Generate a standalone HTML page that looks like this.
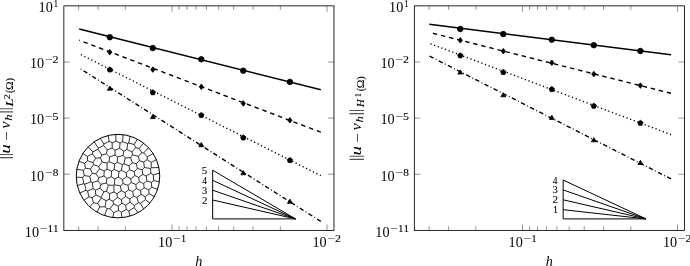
<!DOCTYPE html>
<html><head><meta charset="utf-8"><title>Convergence plots</title>
<style>
html,body{margin:0;padding:0;background:#fff}
svg{display:block}
text{fill:#000;font-kerning:none}
.tk{fill:none;stroke:#7a7a7a;stroke-width:0.8}
.ln{fill:none;stroke:#000;stroke-width:1.4}
.mk{fill:#000;stroke:#000;stroke-width:0.85;stroke-linejoin:miter}
.th{fill:none;stroke:#000;stroke-width:1}
.ms{fill:none;stroke:#000;stroke-width:0.8}
.fr{fill:none;stroke:#000;stroke-width:0.85}
</style></head>
<body>
<svg width="690" height="266" viewBox="0 0 690 266">
<rect width="690" height="266" fill="#fff"/>
<g transform="translate(0,0)">
<path d="M78.68 5.85v4M78.68 230.4v-4M98.05 5.85v4M98.05 230.4v-4M125.34 5.85v4M125.34 230.4v-4M179.09 5.85v4M179.09 230.4v-4M187.02 5.85v4M187.02 230.4v-4M196.01 5.85v4M196.01 230.4v-4M206.39 5.85v4M206.39 230.4v-4M218.66 5.85v4M218.66 230.4v-4M233.68 5.85v4M233.68 230.4v-4M253.05 5.85v4M253.05 230.4v-4M280.34 5.85v4M280.34 230.4v-4M172.00 5.85v6M172.00 230.4v-6M327.00 5.85v6M327.00 230.4v-6M63.85 61.99h6M333.95 61.99h-6M63.85 118.12h6M333.95 118.12h-6M63.85 174.26h6M333.95 174.26h-6" class="tk"/>
<path d="M320.8 89.8L79.2 29.0" class="ln"/>
<path d="M320.8 132.2L79.2 40.2" class="ln" stroke-dasharray="4.46 3.86" stroke-dashoffset="0.15"/>
<path d="M320.8 175.7L79.2 53.7" class="ln" stroke-dasharray="1.21 2.67" stroke-dashoffset="0.15"/>
<path d="M320.8 221.4L79.2 68.0" class="ln" stroke-dasharray="4.46 2.47 0.85 2.47" stroke-dashoffset="0.15"/>
<circle cx="109.80" cy="37.20" r="2.77" class="mk"/>
<circle cx="152.80" cy="48.10" r="2.77" class="mk"/>
<circle cx="201.30" cy="59.30" r="2.77" class="mk"/>
<circle cx="243.30" cy="70.70" r="2.77" class="mk"/>
<circle cx="289.90" cy="81.90" r="2.77" class="mk"/>
<polygon points="109.80,49.43 111.88,52.20 109.80,54.97 107.72,52.20" class="mk"/>
<polygon points="152.80,66.83 154.88,69.60 152.80,72.37 150.72,69.60" class="mk"/>
<polygon points="201.30,84.03 203.38,86.80 201.30,89.57 199.22,86.80" class="mk"/>
<polygon points="243.30,100.63 245.38,103.40 243.30,106.17 241.22,103.40" class="mk"/>
<polygon points="289.90,117.53 291.98,120.30 289.90,123.07 287.82,120.30" class="mk"/>
<polygon points="109.80,66.93 107.17,68.84 108.17,71.94 111.43,71.94 112.43,68.84" class="mk"/>
<polygon points="152.80,89.73 150.17,91.64 151.17,94.74 154.43,94.74 155.43,91.64" class="mk"/>
<polygon points="201.30,112.43 198.67,114.34 199.67,117.44 202.93,117.44 203.93,114.34" class="mk"/>
<polygon points="243.30,134.93 240.67,136.84 241.67,139.94 244.93,139.94 245.93,136.84" class="mk"/>
<polygon points="289.90,157.53 287.27,159.44 288.27,162.54 291.53,162.54 292.53,159.44" class="mk"/>
<polygon points="109.80,86.03 107.40,90.19 112.20,90.19" class="mk"/>
<polygon points="152.80,114.43 150.40,118.59 155.20,118.59" class="mk"/>
<polygon points="201.30,142.53 198.90,146.69 203.70,146.69" class="mk"/>
<polygon points="243.30,170.63 240.90,174.78 245.70,174.78" class="mk"/>
<polygon points="289.90,199.13 287.50,203.28 292.30,203.28" class="mk"/>
<path d="M212.65 170.2V218.9H295.5M295.5 218.9L212.65 170.2M295.5 218.9L212.65 180.3M295.5 218.9L212.65 190.2M295.5 218.9L212.65 200.0" class="th"/>
<text transform="translate(201.77,173.70) scale(1.040,1)" style='font-family:"Liberation Serif",serif;stroke:#000;stroke-width:0.1px;font-size:10.5px'>5</text>
<text transform="translate(202.22,183.80) scale(0.901,1)" style='font-family:"Liberation Serif",serif;stroke:#000;stroke-width:0.1px;font-size:10.5px'>4</text>
<text transform="translate(201.89,193.70) scale(1.014,1)" style='font-family:"Liberation Serif",serif;stroke:#000;stroke-width:0.1px;font-size:10.5px'>3</text>
<text transform="translate(201.92,203.50) scale(1.045,1)" style='font-family:"Liberation Serif",serif;stroke:#000;stroke-width:0.1px;font-size:10.5px'>2</text>
<path d="M135.62 147.65L131.97 151.99M131.97 151.99L126.89 149.47M126.89 149.47L127.77 143.59M127.77 143.59L128.59 143.12M128.59 143.12L134.22 144.48M134.22 144.48L135.62 147.65M136.99 197.43L141.03 194.39M141.03 194.39L145.13 196.66M145.13 196.66L145.40 199.76M145.40 199.76L140.44 203.34M140.44 203.34L138.42 202.78M138.42 202.78L136.99 197.43M100.24 138.16L103.88 144.13M103.88 144.13L103.53 145.51M103.53 145.51L98.37 148.19M98.37 148.19L94.00 141.73M139.33 181.72L138.71 177.35M138.71 177.35L134.88 175.55M134.88 175.55L130.84 178.76M130.84 178.76L131.28 182.53M131.28 182.53L135.86 184.53M135.86 184.53L139.33 181.72M99.91 188.24L103.93 191.82M103.93 191.82L101.02 197.40M101.02 197.40L95.79 195.00M95.79 195.00L95.46 190.08M95.46 190.08L99.91 188.24M91.02 181.89L89.79 176.36M89.79 176.36L92.35 173.45M92.35 173.45L95.84 173.78M95.84 173.78L98.66 177.66M98.66 177.66L97.82 180.91M97.82 180.91L92.29 182.65M92.29 182.65L91.02 181.89M126.29 172.68L121.38 170.39M121.38 170.39L118.99 171.62M118.99 171.62L118.42 177.20M118.42 177.20L122.61 179.51M122.61 179.51L126.60 176.54M126.60 176.54L126.29 172.68M99.79 206.90L96.94 212.40M89.59 207.02L93.51 202.81M93.51 202.81L97.78 203.45M97.78 203.45L99.79 206.90M130.07 216.27L128.75 210.87M128.75 210.87L126.32 209.43M126.32 209.43L121.32 212.20M121.32 212.20L121.93 217.89M76.61 169.28L83.35 170.37M83.35 170.37L84.23 175.59M84.23 175.59L82.60 177.38M82.60 177.38L76.09 177.22M115.94 141.06L115.78 134.24M108.15 135.36L109.18 141.28M109.18 141.28L112.20 142.94M112.20 142.94L115.94 141.06M130.84 178.76L126.60 176.54M126.29 172.68L129.68 169.84M129.68 169.84L134.19 171.57M134.19 171.57L134.88 175.55M113.92 185.24L113.99 192.07M113.99 192.07L116.90 193.68M116.90 193.68L121.22 190.82M121.22 190.82L120.50 185.89M120.50 185.89L114.47 184.78M114.47 184.78L113.92 185.24M133.45 196.17L129.86 198.87M129.86 198.87L129.94 202.19M129.94 202.19L134.46 205.45M134.46 205.45L138.42 202.78M136.99 197.43L133.45 196.17M140.44 203.34L143.70 209.17M150.00 203.19L145.40 199.76M88.09 146.72L92.86 151.92M92.86 151.92L98.03 149.19M98.03 149.19L98.37 148.19M117.53 157.09L115.00 155.01M115.00 155.01L115.14 150.23M115.14 150.23L119.59 148.27M119.59 148.27L123.75 151.11M123.75 151.11L123.10 155.46M123.10 155.46L117.53 157.09M123.75 151.11L126.89 149.47M131.97 151.99L132.56 154.87M132.56 154.87L130.57 157.65M130.57 157.65L125.34 157.91M125.34 157.91L123.10 155.46M83.35 170.37L85.42 168.16M85.42 168.16L90.51 169.02M90.51 169.02L92.35 173.45M89.79 176.36L84.23 175.59M119.59 148.27L120.06 142.96M120.06 142.96L115.94 141.06M112.20 142.94L112.19 148.11M112.19 148.11L115.14 150.23M104.19 170.92L99.48 168.85M99.48 168.85L98.72 166.58M98.72 166.58L102.25 162.02M102.25 162.02L107.05 163.09M107.05 163.09L107.11 169.21M107.11 169.21L104.19 170.92M79.63 193.06L86.07 190.27M86.07 190.27L84.68 184.16M84.68 184.16L83.86 183.68M83.86 183.68L77.15 185.56M105.09 206.80L107.05 208.80M107.05 208.80L104.44 215.79M99.79 206.90L105.09 206.80M139.33 181.72L143.69 183.46M143.69 183.46L144.16 187.77M144.16 187.77L140.61 190.62M140.61 190.62L136.32 188.62M136.32 188.62L135.86 184.53M158.96 167.52L151.22 167.78M151.22 167.78L151.22 162.32M151.22 162.32L156.52 159.62M122.43 164.53L121.38 170.39M129.68 169.84L129.10 165.79M129.10 165.79L123.89 163.80M123.89 163.80L122.43 164.53M134.46 205.45L134.21 207.69M134.21 207.69L128.75 210.87M126.32 209.43L125.69 205.26M125.69 205.26L129.94 202.19M109.65 193.55L109.33 199.32M109.33 199.32L112.87 201.20M112.87 201.20L117.49 197.42M117.49 197.42L116.90 193.68M113.99 192.07L109.65 193.55M109.94 208.72L107.05 208.80M112.85 217.76L113.69 212.68M113.69 212.68L109.94 208.72M128.05 185.34L131.28 182.53M136.32 188.62L132.67 191.44M132.67 191.44L128.63 189.84M128.63 189.84L128.05 185.34M151.22 162.32L147.10 159.67M147.10 159.67L147.30 156.95M147.30 156.95L153.26 153.49M118.56 210.40L113.69 212.68M109.94 208.72L113.61 203.96M113.61 203.96L118.20 206.07M118.20 206.07L118.56 210.40M118.20 206.07L121.89 203.26M121.89 203.26L121.47 199.61M121.47 199.61L117.49 197.42M112.87 201.20L113.61 203.96M147.10 159.67L143.72 162.05M143.72 162.05L144.38 167.52M144.38 167.52L150.55 168.53M150.55 168.53L151.22 167.78M114.81 178.90L118.42 177.20M122.61 179.51L122.96 183.56M122.96 183.56L120.50 185.89M114.47 184.78L114.81 178.90M109.33 199.32L106.12 200.61M106.12 200.61L105.09 206.80M118.99 171.62L114.28 169.48M114.28 169.48L111.53 171.00M111.53 171.00L111.22 176.75M111.22 176.75L114.81 178.90M98.03 149.19L101.88 155.06M101.88 155.06L106.32 153.80M106.32 153.80L107.37 149.89M107.37 149.89L103.53 145.51M86.07 190.27L87.57 191.03M87.57 191.03L88.98 196.77M88.98 196.77L83.76 200.37M108.34 185.20L113.92 185.24M111.22 176.75L106.95 178.44M106.95 178.44L106.31 182.98M106.31 182.98L108.34 185.20M143.69 183.46L146.87 180.95M146.87 180.95L151.36 182.37M151.36 182.37L151.79 187.30M151.79 187.30L148.76 189.76M148.76 189.76L144.16 187.77M122.43 164.53L117.28 162.38M117.28 162.38L117.53 157.09M125.34 157.91L123.89 163.80M104.19 170.92L103.93 176.00M103.93 176.00L98.66 177.66M95.84 173.78L99.48 168.85M139.17 148.43L143.67 142.98M137.52 139.03L134.22 144.48M135.62 147.65L139.17 148.43M134.21 207.69L138.19 212.79M115.00 155.01L109.64 156.99M109.64 156.99L106.32 153.80M107.37 149.89L112.19 148.11M142.10 169.72L142.89 174.40M142.89 174.40L138.71 177.35M134.19 171.57L137.47 168.54M137.47 168.54L142.10 169.72M133.45 196.17L132.67 191.44M140.61 190.62L141.03 194.39M99.91 188.24L100.78 184.33M100.78 184.33L97.82 180.91M92.29 182.65L93.07 188.67M93.07 188.67L95.46 190.08M93.07 188.67L87.57 191.03M88.98 196.77L92.00 197.77M92.00 197.77L95.79 195.00M159.75 173.15L153.30 174.93M153.30 174.93L150.89 173.27M150.89 173.27L150.55 168.53M97.78 203.45L101.24 198.04M101.24 198.04L106.12 200.61M159.53 181.79L153.68 180.56M153.68 180.56L151.36 182.37M151.79 187.30L157.79 189.35M153.68 180.56L153.30 174.93M127.77 143.59L122.42 141.73M122.42 141.73L120.06 142.96M137.47 168.54L136.21 163.63M136.21 163.63L139.38 160.72M139.38 160.72L143.72 162.05M144.38 167.52L142.10 169.72M103.88 144.13L109.18 141.28M84.68 184.16L91.02 181.89M82.60 177.38L83.86 183.68M123.23 134.51L122.42 141.73M92.86 151.92L92.44 153.78M92.44 153.78L95.60 158.18M95.60 158.18L100.35 157.88M100.35 157.88L101.88 155.06M139.38 160.72L138.46 156.36M138.46 156.36L132.56 154.87M130.57 157.65L132.31 162.80M132.31 162.80L136.21 163.63M128.59 143.12L130.26 136.05M108.34 185.20L106.51 191.36M106.51 191.36L103.93 191.82M100.78 184.33L106.31 182.98M128.05 185.34L122.96 183.56M129.10 165.79L132.31 162.80M111.53 171.00L107.11 169.21M107.05 163.09L109.08 161.67M109.08 161.67L114.70 164.01M114.70 164.01L114.28 169.48M129.86 198.87L125.48 196.52M125.48 196.52L121.47 199.61M121.89 203.26L125.69 205.26M139.17 148.43L141.63 152.77M141.63 152.77L138.46 156.36M142.89 174.40L146.15 175.96M146.15 175.96L150.89 173.27M101.02 197.40L101.24 198.04M93.51 202.81L92.00 197.77M90.51 169.02L93.66 164.66M93.66 164.66L98.72 166.58M78.75 161.29L84.62 163.27M84.62 163.27L85.42 168.16M93.66 164.66L93.01 162.74M93.01 162.74L95.60 158.18M100.35 157.88L102.25 162.02M146.87 180.95L146.15 175.96M141.63 152.77L143.67 152.94M143.67 152.94L147.30 156.95M125.05 192.54L125.48 196.52M121.22 190.82L125.05 192.54M118.56 210.40L121.32 212.20M106.51 191.36L109.65 193.55M84.62 163.27L87.59 160.75M87.59 160.75L93.01 162.74M148.76 189.76L149.03 193.67M149.03 193.67L145.13 196.66M148.62 147.54L143.67 152.94M82.69 153.40L87.33 156.43M87.33 156.43L92.44 153.78M149.03 193.67L154.55 196.67M114.70 164.01L117.28 162.38M109.64 156.99L109.08 161.67M128.63 189.84L125.05 192.54M87.59 160.75L87.33 156.43M106.95 178.44L103.93 176.00" class="ms"/><circle cx="118.0" cy="176.1" r="41.75" class="th"/>
<rect x="63.85" y="5.85" width="270.10" height="224.55" class="fr"/>
<text transform="translate(53.75,7.25) scale(0.879,1)" style='font-family:"Liberation Serif",serif;stroke:#000;stroke-width:0.1px;font-size:9.7px'>1</text><text transform="translate(38.55,12.15) scale(0.999,1)" style='font-family:"Liberation Serif",serif;font-size:14.2px'>10</text>
<text transform="translate(52.57,63.39) scale(1.234,1)" style='font-family:"Liberation Serif",serif;stroke:#000;stroke-width:0.1px;font-size:9.7px'>2</text><text transform="translate(44.93,63.39) scale(1.396,1)" style='font-family:"Liberation Serif",serif;stroke:#000;stroke-width:0.1px;font-size:9.7px'>−</text><text transform="translate(29.95,68.29) scale(0.999,1)" style='font-family:"Liberation Serif",serif;font-size:14.2px'>10</text>
<text transform="translate(52.41,119.52) scale(1.228,1)" style='font-family:"Liberation Serif",serif;stroke:#000;stroke-width:0.1px;font-size:9.7px'>5</text><text transform="translate(44.93,119.52) scale(1.396,1)" style='font-family:"Liberation Serif",serif;stroke:#000;stroke-width:0.1px;font-size:9.7px'>−</text><text transform="translate(29.95,124.42) scale(0.999,1)" style='font-family:"Liberation Serif",serif;font-size:14.2px'>10</text>
<text transform="translate(52.67,175.66) scale(1.168,1)" style='font-family:"Liberation Serif",serif;stroke:#000;stroke-width:0.1px;font-size:9.7px'>8</text><text transform="translate(44.93,175.66) scale(1.396,1)" style='font-family:"Liberation Serif",serif;stroke:#000;stroke-width:0.1px;font-size:9.7px'>−</text><text transform="translate(29.95,180.56) scale(0.999,1)" style='font-family:"Liberation Serif",serif;font-size:14.2px'>10</text>
<text transform="translate(47.53,231.80) scale(1.137,1)" style='font-family:"Liberation Serif",serif;stroke:#000;stroke-width:0.1px;font-size:9.7px'>11</text><text transform="translate(39.78,231.80) scale(1.396,1)" style='font-family:"Liberation Serif",serif;stroke:#000;stroke-width:0.1px;font-size:9.7px'>−</text><text transform="translate(24.80,236.70) scale(0.999,1)" style='font-family:"Liberation Serif",serif;font-size:14.2px'>10</text>
<text transform="translate(180.90,241.90) scale(1.054,1)" style='font-family:"Liberation Serif",serif;stroke:#000;stroke-width:0.1px;font-size:9.7px'>1</text><text transform="translate(173.08,241.90) scale(1.396,1)" style='font-family:"Liberation Serif",serif;stroke:#000;stroke-width:0.1px;font-size:9.7px'>−</text><text transform="translate(158.10,246.80) scale(0.999,1)" style='font-family:"Liberation Serif",serif;font-size:14.2px'>10</text>
<text transform="translate(335.07,241.90) scale(1.234,1)" style='font-family:"Liberation Serif",serif;stroke:#000;stroke-width:0.1px;font-size:9.7px'>2</text><text transform="translate(327.43,241.90) scale(1.396,1)" style='font-family:"Liberation Serif",serif;stroke:#000;stroke-width:0.1px;font-size:9.7px'>−</text><text transform="translate(312.45,246.80) scale(0.999,1)" style='font-family:"Liberation Serif",serif;font-size:14.2px'>10</text>
<text transform="translate(195.19,265.90) scale(1.000,1)" style='font-family:"Liberation Serif",serif;font-style:italic;font-size:14.2px'>h</text>
<g transform="translate(10.1,158) rotate(-90)"><text transform="translate(-1.44,1.10) scale(1.039,1)" style='font-family:"DejaVu Math TeX Gyre","DejaVu Serif",serif;fill:#555;font-size:16.1px'>‖</text><text transform="translate(4.15,0.00) scale(1.344,1)" style='font-family:"Liberation Serif",serif;font-style:italic;font-size:14.2px'>u</text><text transform="translate(16.83,0.90) scale(1.226,1)" style='font-family:"Liberation Serif",serif;font-size:14.2px'>−</text><text transform="translate(29.59,0.00) scale(1.097,1)" style='font-family:"Liberation Serif",serif;font-style:italic;font-size:14.2px'>v</text><text transform="translate(37.14,2.30) scale(1.286,1)" style='font-family:"Liberation Serif",serif;font-style:italic;stroke:#000;stroke-width:0.1px;font-size:9.94px'>h</text><text transform="translate(44.26,1.10) scale(1.039,1)" style='font-family:"DejaVu Math TeX Gyre","DejaVu Serif",serif;fill:#555;font-size:16.1px'>‖</text><text transform="translate(51.47,2.90) scale(1.430,1)" style='font-family:"Liberation Serif",serif;font-style:italic;stroke:#000;stroke-width:0.1px;font-size:9.94px'>L</text><text transform="translate(58.76,0.20) scale(1.386,1)" style='font-family:"Liberation Serif",serif;stroke:#000;stroke-width:0.1px;font-size:7.2px'>2</text><text transform="translate(65.06,2.90) scale(0.929,1)" style='font-family:"Liberation Serif",serif;stroke:#000;stroke-width:0.1px;font-size:10.9px'>(</text><text transform="translate(68.10,3.10) scale(1.164,1)" style='font-family:"Liberation Serif",serif;stroke:#000;stroke-width:0.1px;font-size:9.94px'>Ω</text><text transform="translate(76.47,2.90) scale(0.929,1)" style='font-family:"Liberation Serif",serif;stroke:#000;stroke-width:0.1px;font-size:10.9px'>)</text></g>
</g>
<g transform="translate(350.5,0)">
<path d="M78.68 5.85v4M78.68 230.4v-4M98.05 5.85v4M98.05 230.4v-4M125.34 5.85v4M125.34 230.4v-4M179.09 5.85v4M179.09 230.4v-4M187.02 5.85v4M187.02 230.4v-4M196.01 5.85v4M196.01 230.4v-4M206.39 5.85v4M206.39 230.4v-4M218.66 5.85v4M218.66 230.4v-4M233.68 5.85v4M233.68 230.4v-4M253.05 5.85v4M253.05 230.4v-4M280.34 5.85v4M280.34 230.4v-4M172.00 5.85v6M172.00 230.4v-6M327.00 5.85v6M327.00 230.4v-6M63.85 61.99h6M333.95 61.99h-6M63.85 118.12h6M333.95 118.12h-6M63.85 174.26h6M333.95 174.26h-6" class="tk"/>
<path d="M320.5 54.8L78.8 24.3" class="ln"/>
<path d="M320.5 93.3L78.8 32.4" class="ln" stroke-dasharray="4.46 3.86" stroke-dashoffset="0.15"/>
<path d="M320.5 134.6L78.8 43.3" class="ln" stroke-dasharray="1.21 2.67" stroke-dashoffset="0.15"/>
<path d="M320.5 178.9L78.8 56.0" class="ln" stroke-dasharray="4.46 2.47 0.85 2.47" stroke-dashoffset="0.15"/>
<circle cx="109.80" cy="29.00" r="2.77" class="mk"/>
<circle cx="152.80" cy="34.10" r="2.77" class="mk"/>
<circle cx="201.30" cy="39.70" r="2.77" class="mk"/>
<circle cx="243.30" cy="45.20" r="2.77" class="mk"/>
<circle cx="289.90" cy="51.00" r="2.77" class="mk"/>
<polygon points="109.80,37.53 111.88,40.30 109.80,43.07 107.72,40.30" class="mk"/>
<polygon points="152.80,48.43 154.88,51.20 152.80,53.97 150.72,51.20" class="mk"/>
<polygon points="201.30,59.93 203.38,62.70 201.30,65.47 199.22,62.70" class="mk"/>
<polygon points="243.30,71.33 245.38,74.10 243.30,76.87 241.22,74.10" class="mk"/>
<polygon points="289.90,82.83 291.98,85.60 289.90,88.37 287.82,85.60" class="mk"/>
<polygon points="109.80,52.83 107.17,54.74 108.17,57.84 111.43,57.84 112.43,54.74" class="mk"/>
<polygon points="152.80,69.43 150.17,71.34 151.17,74.44 154.43,74.44 155.43,71.34" class="mk"/>
<polygon points="201.30,86.53 198.67,88.44 199.67,91.54 202.93,91.54 203.93,88.44" class="mk"/>
<polygon points="243.30,103.23 240.67,105.14 241.67,108.24 244.93,108.24 245.93,105.14" class="mk"/>
<polygon points="289.90,120.33 287.27,122.24 288.27,125.34 291.53,125.34 292.53,122.24" class="mk"/>
<polygon points="109.80,69.93 107.40,74.09 112.20,74.09" class="mk"/>
<polygon points="152.80,92.63 150.40,96.79 155.20,96.79" class="mk"/>
<polygon points="201.30,115.23 198.90,119.39 203.70,119.39" class="mk"/>
<polygon points="243.30,137.63 240.90,141.78 245.70,141.78" class="mk"/>
<polygon points="289.90,160.33 287.50,164.48 292.30,164.48" class="mk"/>
<path d="M212.65 180.0V218.9H295.5M295.5 218.9L212.65 180.0M295.5 218.9L212.65 189.9M295.5 218.9L212.65 199.8M295.5 218.9L212.65 209.7" class="th"/>
<text transform="translate(202.22,183.50) scale(0.901,1)" style='font-family:"Liberation Serif",serif;stroke:#000;stroke-width:0.1px;font-size:10.5px'>4</text>
<text transform="translate(201.89,193.40) scale(1.014,1)" style='font-family:"Liberation Serif",serif;stroke:#000;stroke-width:0.1px;font-size:10.5px'>3</text>
<text transform="translate(201.92,203.30) scale(1.045,1)" style='font-family:"Liberation Serif",serif;stroke:#000;stroke-width:0.1px;font-size:10.5px'>2</text>
<text transform="translate(202.43,213.20) scale(0.947,1)" style='font-family:"Liberation Serif",serif;stroke:#000;stroke-width:0.1px;font-size:10.5px'>1</text>
<rect x="63.85" y="5.85" width="270.10" height="224.55" class="fr"/>
<text transform="translate(53.75,7.25) scale(0.879,1)" style='font-family:"Liberation Serif",serif;stroke:#000;stroke-width:0.1px;font-size:9.7px'>1</text><text transform="translate(38.55,12.15) scale(0.999,1)" style='font-family:"Liberation Serif",serif;font-size:14.2px'>10</text>
<text transform="translate(52.57,63.39) scale(1.234,1)" style='font-family:"Liberation Serif",serif;stroke:#000;stroke-width:0.1px;font-size:9.7px'>2</text><text transform="translate(44.93,63.39) scale(1.396,1)" style='font-family:"Liberation Serif",serif;stroke:#000;stroke-width:0.1px;font-size:9.7px'>−</text><text transform="translate(29.95,68.29) scale(0.999,1)" style='font-family:"Liberation Serif",serif;font-size:14.2px'>10</text>
<text transform="translate(52.41,119.52) scale(1.228,1)" style='font-family:"Liberation Serif",serif;stroke:#000;stroke-width:0.1px;font-size:9.7px'>5</text><text transform="translate(44.93,119.52) scale(1.396,1)" style='font-family:"Liberation Serif",serif;stroke:#000;stroke-width:0.1px;font-size:9.7px'>−</text><text transform="translate(29.95,124.42) scale(0.999,1)" style='font-family:"Liberation Serif",serif;font-size:14.2px'>10</text>
<text transform="translate(52.67,175.66) scale(1.168,1)" style='font-family:"Liberation Serif",serif;stroke:#000;stroke-width:0.1px;font-size:9.7px'>8</text><text transform="translate(44.93,175.66) scale(1.396,1)" style='font-family:"Liberation Serif",serif;stroke:#000;stroke-width:0.1px;font-size:9.7px'>−</text><text transform="translate(29.95,180.56) scale(0.999,1)" style='font-family:"Liberation Serif",serif;font-size:14.2px'>10</text>
<text transform="translate(47.53,231.80) scale(1.137,1)" style='font-family:"Liberation Serif",serif;stroke:#000;stroke-width:0.1px;font-size:9.7px'>11</text><text transform="translate(39.78,231.80) scale(1.396,1)" style='font-family:"Liberation Serif",serif;stroke:#000;stroke-width:0.1px;font-size:9.7px'>−</text><text transform="translate(24.80,236.70) scale(0.999,1)" style='font-family:"Liberation Serif",serif;font-size:14.2px'>10</text>
<text transform="translate(180.90,241.90) scale(1.054,1)" style='font-family:"Liberation Serif",serif;stroke:#000;stroke-width:0.1px;font-size:9.7px'>1</text><text transform="translate(173.08,241.90) scale(1.396,1)" style='font-family:"Liberation Serif",serif;stroke:#000;stroke-width:0.1px;font-size:9.7px'>−</text><text transform="translate(158.10,246.80) scale(0.999,1)" style='font-family:"Liberation Serif",serif;font-size:14.2px'>10</text>
<text transform="translate(335.07,241.90) scale(1.234,1)" style='font-family:"Liberation Serif",serif;stroke:#000;stroke-width:0.1px;font-size:9.7px'>2</text><text transform="translate(327.43,241.90) scale(1.396,1)" style='font-family:"Liberation Serif",serif;stroke:#000;stroke-width:0.1px;font-size:9.7px'>−</text><text transform="translate(312.45,246.80) scale(0.999,1)" style='font-family:"Liberation Serif",serif;font-size:14.2px'>10</text>
<text transform="translate(195.19,265.90) scale(1.000,1)" style='font-family:"Liberation Serif",serif;font-style:italic;font-size:14.2px'>h</text>
<g transform="translate(10.1,158) rotate(-90)"><text transform="translate(-3.19,1.10) scale(1.039,1)" style='font-family:"DejaVu Math TeX Gyre","DejaVu Serif",serif;fill:#555;font-size:16.1px'>‖</text><text transform="translate(2.40,0.00) scale(1.344,1)" style='font-family:"Liberation Serif",serif;font-style:italic;font-size:14.2px'>u</text><text transform="translate(15.08,0.90) scale(1.226,1)" style='font-family:"Liberation Serif",serif;font-size:14.2px'>−</text><text transform="translate(27.84,0.00) scale(1.097,1)" style='font-family:"Liberation Serif",serif;font-style:italic;font-size:14.2px'>v</text><text transform="translate(35.39,2.30) scale(1.286,1)" style='font-family:"Liberation Serif",serif;font-style:italic;stroke:#000;stroke-width:0.1px;font-size:9.94px'>h</text><text transform="translate(42.51,1.10) scale(1.039,1)" style='font-family:"DejaVu Math TeX Gyre","DejaVu Serif",serif;fill:#555;font-size:16.1px'>‖</text><text transform="translate(50.91,2.90) scale(1.074,1)" style='font-family:"Liberation Serif",serif;font-style:italic;stroke:#000;stroke-width:0.1px;font-size:9.94px'>H</text><text transform="translate(60.85,0.20) scale(1.184,1)" style='font-family:"Liberation Serif",serif;stroke:#000;stroke-width:0.1px;font-size:7.2px'>1</text><text transform="translate(66.81,2.90) scale(0.929,1)" style='font-family:"Liberation Serif",serif;stroke:#000;stroke-width:0.1px;font-size:10.9px'>(</text><text transform="translate(69.85,3.10) scale(1.164,1)" style='font-family:"Liberation Serif",serif;stroke:#000;stroke-width:0.1px;font-size:9.94px'>Ω</text><text transform="translate(78.22,2.90) scale(0.929,1)" style='font-family:"Liberation Serif",serif;stroke:#000;stroke-width:0.1px;font-size:10.9px'>)</text></g>
</g>
</svg>
</body></html>
